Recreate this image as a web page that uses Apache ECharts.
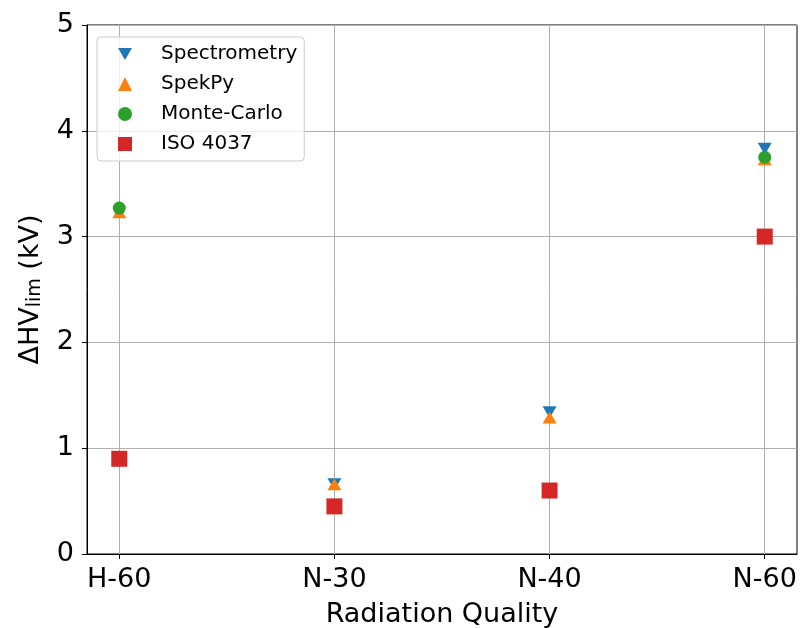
<!DOCTYPE html>
<html>
<head>
<meta charset="utf-8">
<script src="https://cdn.jsdelivr.net/npm/echarts@6/dist/echarts.min.js"></script>
<style>
  html, body { margin: 0; padding: 0; background: #fff; }
  #chart { width: 800px; height: 628px; }
</style>
</head>
<body>
<div id="chart"></div>
<script>
// Radiation qualities along the x axis
const categories = ['H-60', 'N-30', 'N-40', 'N-60'];

// ΔHV_lim (kV) per radiation quality; null = no value for that quality
const spectrometry = [null, 0.66, 1.34, 3.83];
const spekpy       = [3.23, 0.66, 1.29, 3.73];
const monteCarlo   = [3.27, null, null, 3.75];
const iso4037      = [0.90, 0.45, 0.60, 3.00];

// y axis ticks
const yTicks = [0, 1, 2, 3, 4, 5];

const FONT = 'DejaVu Sans';
const DOWN_TRIANGLE = 'path://M0,0L14,0L7,12Z';

function points(values) {
  const out = [];
  values.forEach((v, i) => { if (v !== null) out.push([i, v]); });
  return out;
}

const tickIdx = categories.map((_, i) => i);

const chart = echarts.init(document.getElementById('chart'), null, { renderer: 'canvas' });

chart.setOption({
  animation: false,
  backgroundColor: '#ffffff',
  textStyle: { fontFamily: FONT },
  grid: {
    left: 87, right: 3, top: 25, bottom: 74,
    containLabel: false,
    outerBoundsMode: 'none',
    show: true, borderColor: '#000', borderWidth: 1, backgroundColor: 'transparent'
  },
  legend: {
    orient: 'vertical',
    left: 97, top: 37,
    padding: [5, 7, 5, 21],
    itemWidth: 14, itemHeight: 14, itemGap: 6,
    backgroundColor: 'rgba(255,255,255,0.8)',
    borderColor: '#cccccc', borderWidth: 1, borderRadius: 4,
    textStyle: { fontFamily: FONT, fontSize: 20, lineHeight: 24, color: '#000', padding: [0, 0, 0, 24] },
    data: [
      { name: 'Spectrometry', icon: DOWN_TRIANGLE },
      { name: 'SpekPy', icon: 'triangle' },
      { name: 'Monte-Carlo', icon: 'circle' },
      { name: 'ISO 4037', icon: 'rect' }
    ]
  },
  xAxis: {
    type: 'value',
    min: -0.15, max: 3.15,
    name: 'Radiation Quality',
    nameLocation: 'middle',
    nameGap: 47,
    nameTextStyle: { fontFamily: FONT, fontSize: 27, color: '#000' },
    axisLine: { show: true, onZero: false, lineStyle: { color: '#000', width: 1 } },
    axisTick: { show: true, customValues: tickIdx, length: 5, lineStyle: { color: '#000' } },
    axisLabel: {
      customValues: tickIdx,
      margin: 12,
      fontFamily: FONT, fontSize: 27, color: '#000',
      formatter: v => categories[Math.round(v)]
    },
    splitLine: { show: true, lineStyle: { color: '#b0b0b0', width: 1 } }
  },
  yAxis: {
    type: 'value',
    min: yTicks[0], max: yTicks[yTicks.length - 1], interval: 1,
    name: 'ΔHV{sub|lim} (kV)',
    nameLocation: 'middle',
    nameRotate: 90,
    nameGap: 42,
    nameTextStyle: {
      fontFamily: FONT, fontSize: 27, color: '#000',
      rich: { sub: { fontFamily: FONT, fontSize: 19, color: '#000', verticalAlign: 'bottom', padding: [10, 0, 0, 0] } }
    },
    axisLine: { show: true, onZero: false, lineStyle: { color: '#000', width: 1 } },
    axisTick: { show: true, length: 5, lineStyle: { color: '#000' } },
    axisLabel: { margin: 13, fontFamily: FONT, fontSize: 27, color: '#000' },
    splitLine: { show: true, lineStyle: { color: '#b0b0b0', width: 1 } }
  },
  series: [
    {
      name: 'Spectrometry', type: 'scatter',
      symbol: 'triangle', symbolRotate: 180, symbolSize: [14, 12],
      itemStyle: { color: '#1f77b4', opacity: 1 },
      data: points(spectrometry)
    },
    {
      name: 'SpekPy', type: 'scatter',
      symbol: 'triangle', symbolSize: [14, 12],
      itemStyle: { color: '#ff7f0e', opacity: 1 },
      data: points(spekpy)
    },
    {
      name: 'Monte-Carlo', type: 'scatter',
      symbol: 'circle', symbolSize: 13,
      itemStyle: { color: '#2ca02c', opacity: 1 },
      data: points(monteCarlo)
    },
    {
      name: 'ISO 4037', type: 'scatter',
      symbol: 'rect', symbolSize: 16,
      itemStyle: { color: '#d62728', opacity: 1 },
      data: points(iso4037)
    }
  ]
});
</script>
</body>
</html>
